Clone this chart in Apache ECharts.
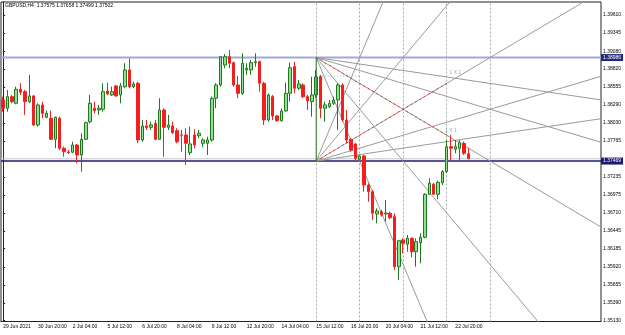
<!DOCTYPE html>
<html><head><meta charset="utf-8">
<script src="https://cdn.jsdelivr.net/npm/echarts@6/dist/echarts.min.js"></script>
<style>html,body{margin:0;padding:0;background:#fff}#c{width:625px;height:335px}</style>
</head><body><div id="c"></div>
<script>
const chartTitle = 'GBPUSD,H4  1.37575 1.37658 1.37499 1.37502';
const barCount = 138;
const xTickLabels = ['29 Jun 2021','30 Jun 20:00','2 Jul 04:00','5 Jul 12:00','6 Jul 20:00','8 Jul 04:00','9 Jul 12:00','12 Jul 20:00','14 Jul 04:00','15 Jul 12:00','16 Jul 20:00','20 Jul 04:00','21 Jul 12:00','22 Jul 20:00'];
const yTickValues = [1.35130,1.35390,1.35655,1.35920,1.36185,1.36445,1.36710,1.36975,1.37235,1.37765,1.38030,1.38290,1.38555,1.38820,1.39080,1.39345,1.39610];
const opens  = [1.38364,1.38243,1.38413,1.38316,1.38521,1.38486,1.38339,1.38423,1.37998,1.38291,1.38111,1.38096,1.37788,1.38096,1.37656,1.37602,1.37598,1.37705,1.37558,1.37788,1.38046,1.38243,1.38218,1.38228,1.38496,1.38438,1.38570,1.38438,1.38559,1.38804,1.38559,1.38609,1.37778,1.37983,1.37964,1.38023,1.37788,1.38218,1.37964,1.37983,1.37914,1.37851,1.37851,1.37592,1.37851,1.37841,1.37730,1.37730,1.37778,1.38389,1.38584,1.38877,1.38999,1.38911,1.38584,1.38462,1.38804,1.38804,1.38911,1.38926,1.38609,1.38071,1.38413,1.38130,1.38061,1.38203,1.38462,1.38852,1.38536,1.38584,1.38413,1.38339,1.38438,1.38706,1.38243,1.38267,1.38316,1.38364,1.38584,1.38071,1.37788,1.37720,1.37495,1.37544,1.37119,1.37020,1.36694,1.36727,1.36694,1.36704,1.36654,1.35921,1.36313,1.36250,1.36337,1.36141,1.36273,1.36352,1.36982,1.37129,1.36982,1.37152,1.37314,1.37680,1.37642,1.37656,1.37730,1.37575];
const closes = [1.38243,1.38413,1.38339,1.38521,1.38477,1.38339,1.38423,1.37998,1.38291,1.38169,1.38169,1.37788,1.38111,1.37656,1.37607,1.37592,1.37705,1.37558,1.37788,1.38032,1.38316,1.38208,1.38243,1.38486,1.38452,1.38486,1.38423,1.38570,1.38804,1.38559,1.38599,1.37778,1.37983,1.37958,1.37998,1.37788,1.38218,1.37964,1.37998,1.37885,1.37753,1.37847,1.37730,1.37720,1.37705,1.37876,1.37778,1.37778,1.38389,1.38584,1.38999,1.38999,1.38902,1.38584,1.38462,1.38902,1.38829,1.38911,1.38926,1.38609,1.38071,1.38438,1.38130,1.38061,1.38203,1.38462,1.38838,1.38536,1.38599,1.38413,1.38350,1.38438,1.38701,1.38243,1.38291,1.38316,1.38364,1.38584,1.38071,1.37778,1.37631,1.37510,1.37544,1.37119,1.37020,1.36704,1.36738,1.36679,1.36708,1.36639,1.35921,1.36302,1.36264,1.36337,1.36141,1.36288,1.36352,1.36982,1.37144,1.36982,1.37158,1.37314,1.37680,1.37656,1.37680,1.37739,1.37583,1.37502];
const lows   = [1.38193,1.38193,1.38316,1.38301,1.38438,1.38145,1.38316,1.37983,1.37973,1.38096,1.38096,1.37778,1.37656,1.37631,1.37533,1.37573,1.37583,1.37437,1.37313,1.37778,1.38023,1.38169,1.38145,1.38193,1.38438,1.38423,1.38413,1.38316,1.38536,1.38536,1.38536,1.37730,1.37753,1.37925,1.37925,1.37778,1.37778,1.37533,1.37925,1.37866,1.37730,1.37607,1.37412,1.37558,1.37656,1.37803,1.37671,1.37558,1.37753,1.38243,1.38559,1.38829,1.38829,1.38559,1.38389,1.38438,1.38731,1.38731,1.38852,1.38486,1.37998,1.38046,1.38071,1.38046,1.38046,1.38193,1.38339,1.38462,1.38511,1.38389,1.38218,1.38120,1.38394,1.38096,1.38046,1.38243,1.38291,1.37925,1.38046,1.37730,1.37607,1.37485,1.37475,1.37020,1.36874,1.36606,1.36557,1.36654,1.36581,1.36616,1.35873,1.35726,1.36118,1.36141,1.36059,1.35921,1.35971,1.36337,1.36972,1.36972,1.36909,1.37119,1.37294,1.37485,1.37583,1.37485,1.37558,1.37499];
const highs  = [1.38413,1.38511,1.38438,1.38559,1.38609,1.38511,1.38731,1.38438,1.38316,1.38339,1.38208,1.38208,1.38120,1.38120,1.37680,1.37631,1.37753,1.37720,1.37876,1.38046,1.38438,1.38339,1.38291,1.38609,1.38618,1.38559,1.38584,1.38609,1.38902,1.38975,1.38632,1.38632,1.38071,1.38071,1.38046,1.38071,1.38389,1.38243,1.38145,1.38046,1.37950,1.37925,1.37950,1.37973,1.37935,1.37925,1.37803,1.37826,1.38413,1.38609,1.39009,1.39038,1.39097,1.38926,1.38716,1.39049,1.38902,1.38951,1.39049,1.38941,1.38632,1.38462,1.38438,1.38145,1.38243,1.38618,1.38911,1.38926,1.38657,1.38609,1.38438,1.38706,1.38804,1.38731,1.38339,1.38364,1.38413,1.38609,1.38609,1.38218,1.37803,1.37730,1.37558,1.37558,1.37144,1.37045,1.36777,1.36752,1.36899,1.36727,1.36704,1.36313,1.36337,1.36386,1.36352,1.36337,1.36411,1.36997,1.37217,1.37152,1.37182,1.37338,1.37778,1.37851,1.37778,1.37778,1.37753,1.37658];
const upperLevel = 1.38986;
const lowerLevel = 1.37469;
const bidPrice = 1.37502;
const fanAnchorIndex = 72;
const fanUnitBars = 40;          // bars for the 1x1 line to cross the whole range
const fanRatios = [0.25, 0.5, 1, 2, 4];
const gridBars = [72, 82, 92, 102, 112];
const redSegmentEnd = 102;
const dottedLevel = 1.38716;
const oneByOneLabels = [[104, 1.38760], [103, 1.37910]];
const yMin = 1.35118, yMax = 1.39800;

const categories = Array.from({length: barCount}, (_, i) => String(i));
const candleData = opens.map((o, i) => [o, closes[i], lows[i], highs[i]]);
const slope = (upperLevel - lowerLevel) / fanUnitBars;
const xLo = -0.5, xHi = barCount - 0.5;   // value axis aligned with the category bands
const FONT = 'Liberation Sans';

const base = {symbol: 'none', silent: true, animation: false, xAxisIndex: 1};
const series = [];
series.push({
  type: 'candlestick', data: candleData, barWidth: 3, z: 3,
  itemStyle: {color: '#8fe08f', borderColor: '#1f7a1f', color0: '#ff1a1a', borderColor0: '#ee2222', borderWidth: 1},
  markLine: {
    symbol: 'none', silent: true, animation: false, z: 1, label: {show: false},
    data: gridBars.map(b => ({xAxis: b, lineStyle: {color: '#aaaaaa', width: 1, type: [2, 2]}}))
  }
});
const levelLabel = (bg) => ({show: true, formatter: (p) => p.value[1].toFixed(5), backgroundColor: bg, color: '#fff', fontSize: 5, fontFamily: FONT, padding: [1, 2], distance: 0});
series.push(Object.assign({}, base, {type: 'line', z: 1, data: [[xLo, upperLevel], [xHi, upperLevel]], lineStyle: {color: '#a4a8d6', width: 2}, endLabel: levelLabel('#23287a')}));
series.push(Object.assign({}, base, {type: 'line', z: 1, data: [[xLo, bidPrice], [xHi, bidPrice]], lineStyle: {color: '#c4c4c4', width: 1}}));
series.push(Object.assign({}, base, {type: 'line', z: 1, data: [[xLo, lowerLevel], [xHi, lowerLevel]], lineStyle: {color: '#1c1c6e', width: 1.5}, endLabel: levelLabel('#1c1c6e')}));
// fan lines
fanRatios.forEach(m => {
  const dp = m * slope * (xHi - fanAnchorIndex);
  series.push(Object.assign({}, base, {type: 'line', z: 2, data: [[fanAnchorIndex, upperLevel], [xHi, upperLevel - dp]], lineStyle: {color: '#9a9a9a', width: 1}}));
  series.push(Object.assign({}, base, {type: 'line', z: 2, data: [[fanAnchorIndex, lowerLevel], [xHi, lowerLevel + dp]], lineStyle: {color: '#9a9a9a', width: 1}}));
});
// red 1x1 segments
const redDp = slope * (redSegmentEnd - fanAnchorIndex);
series.push(Object.assign({}, base, {type: 'line', z: 4, data: [[fanAnchorIndex, upperLevel], [redSegmentEnd, upperLevel - redDp]], lineStyle: {color: '#e03030', width: 1, type: [2, 3]}}));
series.push(Object.assign({}, base, {type: 'line', z: 4, data: [[fanAnchorIndex, lowerLevel], [redSegmentEnd, lowerLevel + redDp]], lineStyle: {color: '#e03030', width: 1, type: [2, 3]}}));
// short dotted level
series.push(Object.assign({}, base, {type: 'line', z: 2, data: [[gridBars[0], dottedLevel], [gridBars[1], dottedLevel]], lineStyle: {color: '#aaaaaa', width: 1, type: [1, 2]}}));
// vertical anchor line
series.push(Object.assign({}, base, {type: 'line', z: 5, data: [[fanAnchorIndex, lowerLevel], [fanAnchorIndex, upperLevel]], lineStyle: {color: '#1e7a1e', width: 1}}));
// 1x1 labels
series.push(Object.assign({}, base, {type: 'scatter', symbol: 'circle', symbolSize: 1, itemStyle: {color: 'rgba(0,0,0,0)'}, z: 6, data: oneByOneLabels,
  label: {show: true, formatter: '1 X 1', position: 'inside', fontSize: 5, color: '#888', fontFamily: FONT}}));

const chart = echarts.init(document.getElementById('c'), null, {renderer: 'canvas'});
chart.setOption({
  animation: false,
  backgroundColor: '#ffffff',
  title: {text: chartTitle, left: 5, top: 3, padding: 0, textStyle: {fontSize: 5, fontWeight: 'normal', color: '#000', fontFamily: FONT}},
  grid: {left: 1, top: 2, width: 600, height: 319.5, show: true, borderColor: '#222', borderWidth: 1, backgroundColor: '#fff'},
  xAxis: [{
    type: 'category', data: categories, boundaryGap: true,
    axisLine: {lineStyle: {color: '#222'}},
    axisTick: {alignWithLabel: true, length: 2, lineStyle: {color: '#222'}, interval: (i) => i % 8 === 0 && i / 8 < xTickLabels.length},
    axisLabel: {interval: (i) => i % 8 === 0 && i / 8 < xTickLabels.length, formatter: (v, i) => xTickLabels[i / 8] || '', align: 'left', margin: 3, fontSize: 5, color: '#000', fontFamily: FONT},
    splitLine: {show: false}
  }, {
    type: 'value', min: xLo, max: xHi, show: false, position: 'bottom'
  }],
  yAxis: {
    type: 'value', position: 'right', min: yMin, max: yMax, scale: true,
    axisLine: {show: true, lineStyle: {color: '#222'}},
    axisTick: {show: true, length: 2, customValues: yTickValues, lineStyle: {color: '#222'}},
    axisLabel: {customValues: yTickValues, formatter: (v) => v.toFixed(5), margin: 2, fontSize: 5, color: '#000', fontFamily: FONT},
    splitLine: {show: false}
  },
  series: series
});
</script></body></html>
